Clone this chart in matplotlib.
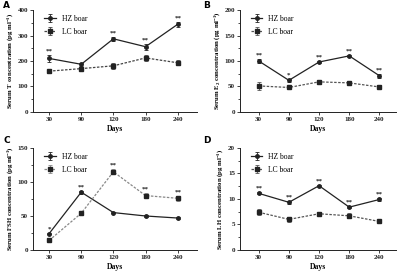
import matplotlib
matplotlib.use("Agg")
import matplotlib.pyplot as plt
from matplotlib.ticker import MultipleLocator
import numpy as np

plt.rcParams['font.family'] = ['Liberation Serif', 'DejaVu Serif']
plt.rcParams['font.weight'] = 'bold'
plt.rcParams['mathtext.default'] = 'regular'

days = ['30', '90', '120', '180', '240']

# Panel A: T
t_hz = [210, 187, 287, 256, 344]
t_hz_err = [15, 5, 8, 12, 10]
t_lc = [160, 170, 181, 212, 193]
t_lc_err = [7, 6, 12, 13, 10]
t_stars = ['**', '', '**', '**', '**']

# Panel B: E2
e_hz = [100, 62, 98, 110, 71]
e_hz_err = [4, 3, 2, 2, 4]
e_lc = [51, 48, 59, 57, 49]
e_lc_err = [8, 2, 4, 3, 3]
e_stars = ['**', '*', '**', '**', '**']

# Panel C: FSH
f_hz = [24, 85, 55, 50, 47]
f_hz_err = [1, 2, 1, 2, 2]
f_lc = [14, 54, 115, 80, 76]
f_lc_err = [1, 3, 4, 4, 4]
f_stars = ['*', '**', '**', '**', '**']

# Panel D: LH
l_hz = [11.1, 9.35, 12.6, 8.4, 9.9]
l_hz_err = [0.2, 0.3, 0.2, 0.2, 0.3]
l_lc = [7.4, 6.0, 7.1, 6.7, 5.6]
l_lc_err = [0.6, 0.5, 0.3, 0.5, 0.2]
l_stars = ['**', '**', '**', '**', '**']

panels = [
    dict(letter='A', hz=t_hz, hze=t_hz_err, lc=t_lc, lce=t_lc_err, stars=t_stars,
         ylim=400, major=100, ylabel='Serum T concentration (pg ml$^{-1}$)',
         pos=[0.0825, 0.587, 0.41, 0.376], xlim=(-0.5, 4.6), lccol='#444444',
         lpos=(0.008, 0.995)),
    dict(letter='B', hz=e_hz, hze=e_hz_err, lc=e_lc, lce=e_lc_err, stars=e_stars,
         ylim=200, major=50, ylabel='Serum E$_2$ concentration (pg ml$^{-1}$)',
         pos=[0.6, 0.587, 0.39, 0.376], xlim=(-0.62, 4.55), lccol='#555555',
         lpos=(0.508, 0.995)),
    dict(letter='C', hz=f_hz, hze=f_hz_err, lc=f_lc, lce=f_lc_err, stars=f_stars,
         ylim=150, major=50, ylabel='Serum FSH concentration (pg ml$^{-1}$)',
         pos=[0.0825, 0.0775, 0.41, 0.3765], xlim=(-0.5, 4.6), lccol='#888888',
         lpos=(0.008, 0.497)),
    dict(letter='D', hz=l_hz, hze=l_hz_err, lc=l_lc, lce=l_lc_err, stars=l_stars,
         ylim=20, major=5, ylabel='Serum LH concentration (pg ml$^{-1}$)',
         pos=[0.6, 0.0775, 0.39, 0.3765], xlim=(-0.62, 4.55), lccol='#555555',
         lpos=(0.508, 0.497)),
]

fig = plt.figure(figsize=(4.0, 2.71), dpi=100)
x = np.arange(len(days))

for p in panels:
    ax = fig.add_axes(p['pos'])
    ax.errorbar(x, p['hz'], yerr=p['hze'], color='#222222', lw=0.9, marker='o', ms=2.5,
                capsize=1.5, elinewidth=0.6, capthick=0.6, label='HZ boar')
    ax.errorbar(x, p['lc'], yerr=p['lce'], color=p['lccol'], lw=0.9, ls=(0, (2, 1.2)),
                marker='s', ms=2.5, mfc='#222222', mec='#222222',
                capsize=1.5, elinewidth=0.6, capthick=0.6, label='LC boar')
    for i, s in enumerate(p['stars']):
        if s:
            top = max(p['hz'][i] + p['hze'][i], p['lc'][i] + p['lce'][i])
            ax.annotate(s, (x[i], top), xytext=(0, 1.0), textcoords='offset points',
                        ha='center', va='bottom', fontsize=5, color='#222222')
    ax.set_ylim(0, p['ylim'])
    ax.set_xlim(*p['xlim'])
    ax.yaxis.set_major_locator(MultipleLocator(p['major']))
    ax.yaxis.set_minor_locator(MultipleLocator(p['major'] / 2))
    ax.set_xticks(x)
    ax.set_xticklabels(days)
    ax.spines['top'].set_visible(False)
    ax.spines['right'].set_visible(False)
    for sp in ('left', 'bottom'):
        ax.spines[sp].set_linewidth(0.7)
        ax.spines[sp].set_color('#222222')
    ax.tick_params(axis='both', labelsize=5, width=0.6, length=2, pad=1.5, colors='#222222')
    ax.tick_params(axis='y', which='minor', width=0.5, length=1.2)
    ax.set_ylabel(p['ylabel'], fontsize=4.9, fontweight='bold', labelpad=2)
    ax.set_xlabel('Days', fontsize=5.5, fontweight='bold', labelpad=2)
    ax.legend(loc='upper left', frameon=False, handlelength=1.5,
              borderaxespad=0.2, bbox_to_anchor=(0.04, 1.0), labelspacing=0.7,
              prop={'weight': 'normal', 'size': 5.5})
    fig.text(p['lpos'][0], p['lpos'][1], p['letter'], fontsize=6.5,
             fontweight='bold', family='DejaVu Sans', ha='left', va='top')

fig.savefig('out.png', dpi=100)
